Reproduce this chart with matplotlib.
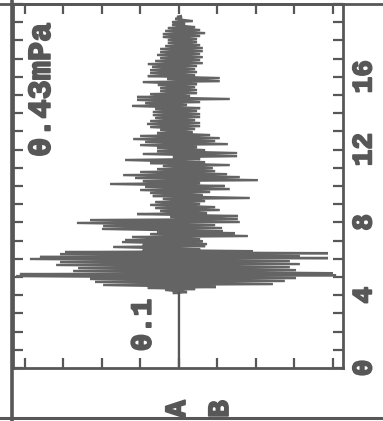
import matplotlib
matplotlib.use("Agg")
import matplotlib.pyplot as plt
from matplotlib.lines import Line2D
import matplotlib.patheffects as pe

# ---- data ----
# time (units of the time axis) of each oscillation row
row_time = [4.12, 4.29, 4.40, 4.56, 4.73, 4.89, 5.05, 5.16, 5.33, 5.49, 5.66, 5.82,
            5.99, 6.10, 6.26, 6.37, 6.48, 6.65, 6.76, 6.92, 7.03, 7.20, 7.36, 7.47,
            7.64, 7.80, 7.97, 8.13, 8.30, 8.46, 8.63, 8.79, 8.96, 9.12, 9.29, 9.45,
            9.62, 9.78, 9.95, 10.11, 10.27, 10.44, 10.60, 10.77, 10.93, 11.10, 11.26,
            11.43, 11.59, 11.76, 11.92, 12.09, 12.25, 12.42, 12.58, 12.75, 12.91,
            13.08, 13.24, 13.41, 13.57, 13.74, 13.90, 14.07, 14.23, 14.40, 14.56,
            14.73, 14.89, 15.05, 15.22, 15.38, 15.55, 15.71, 15.88, 16.04, 16.21,
            16.37, 16.54, 16.70, 16.87, 17.03, 17.20, 17.36, 17.53, 17.69, 17.86,
            18.02, 18.19, 18.35, 18.52, 18.68, 18.85, 19.01, 19.18, 19.29]
# negative peak of each row (divisions)
row_min = [-0.16, -0.36, -0.81, -1.97, -2.18, -2.31, -4.23, -4.13, -2.75, -2.62, -3.19, -3.09,
           -3.87, -3.61, -3.09, -2.96, -0.94, -1.71, -0.94, -1.48, -1.40, -1.22, -0.75, -0.57,
           -2.00, -1.97, -2.65, -2.31, -0.23, -1.09, -0.49, -0.62, -0.75, -0.62, -0.42, -0.68,
           -0.75, -1.01, -0.88, -1.79, -0.94, -1.14, -1.45, -1.01, -0.57, -0.42, -0.75,
           -1.40, -0.16, -0.94, -0.57, -0.57, -1.01, -0.88, -1.19, -1.01, -0.57,
           -0.49, -0.75, -0.83, -0.75, -0.62, -0.68, -0.68, -0.62, -1.22, -0.88,
           -1.09, -1.09, -0.75, -0.49, -0.49, -0.55, -0.94, -0.31, -0.81, -0.75,
           -0.75, -0.70, -0.81, -0.62, -0.49, -0.57, -0.49, -0.49, -0.36, -0.29,
           -0.29, -0.42, -0.42, -0.36, -0.29, -0.18, -0.18, -0.10, -0.05]
# positive peak of each row (divisions)
row_max = [0.21, 0.42, 0.96, 2.44, 2.75, 3.04, 4.08, 4.00, 3.04, 2.88, 3.14, 2.88,
           3.87, 3.14, 3.87, 1.92, 0.55, 0.68, 0.73, 0.62, 0.55, 1.79, 1.45, 1.14,
           1.12, 0.94, 1.58, 1.53, 1.53, 0.73, 1.06, 0.94, 0.55, 0.68, 1.84, 0.62,
           0.81, 1.32, 1.19, 0.55, 2.05, 1.58, 1.25, 0.94, 0.88, 1.32, 0.68,
           0.55, 1.51, 1.51, 0.68, 0.47, 1.27, 0.94, 1.06, 0.81, 0.36,
           0.42, 0.55, 0.55, 0.42, 0.55, 0.55, 0.47, 0.55, 0.21, 0.55,
           1.32, 0.29, 0.47, 0.47, 0.42, 0.47, 1.06, 1.06, 0.42, 0.47,
           0.42, 0.47, 0.62, 0.55, 0.62, 0.55, 0.62, 0.62, 0.55, 0.47,
           0.47, 0.55, 0.68, 0.55, 0.42, 0.16, 0.36, 0.08, 0.05]
onset_time = 4.12

time_ticks = [0, 4, 8, 12, 16]
time_tick_labels = ["0", "4", "8", "12", "16"]
amp_ticks = [-4, -3, -2, -1, 0, 1, 2, 3, 4]
scale_label = "0.1"
range_label = "0.43mPa"
channel_labels = ["A", "B"]

INK = "#575757"
WAVE = "#646464"
FONT = ["Liberation Mono", "DejaVu Sans Mono"]
BOLD = [pe.withStroke(linewidth=1.3, foreground=INK)]

fig = plt.figure(figsize=(3.83, 4.21), dpi=100)
fig.patch.set_facecolor("white")
ax = fig.add_axes([13 / 383, 53 / 421, 330 / 383, 364 / 421])
ax.set_xlim(-4.31, 4.26)
ax.set_ylim(0, 20)

# build the oscillating trace: horizontal strokes row by row
xs = [0.0, 0.0]
ys = [0.0, onset_time]
for t, lo, hi in zip(row_time, row_min, row_max):
    xs += [lo, hi]
    ys += [t, t + 0.05]
ax.plot(xs, ys, color=WAVE, lw=1.7, solid_joinstyle="miter", zorder=3)
ax.plot([0, 0], [0, onset_time], color=INK, lw=1.4, zorder=3)

for s in ax.spines.values():
    s.set_color(INK)
    s.set_linewidth(2.0)

ax.set_yticks(time_ticks)
ax.set_yticklabels(time_tick_labels, family=FONT, fontweight="bold",
                   fontsize=20, color=INK)
ax.set_yticks(range(0, 21), minor=True)
ax.set_xticks(amp_ticks)
ax.set_xticklabels([])
ax.tick_params(axis="y", which="both", direction="in", left=True, right=True,
               labelleft=False, labelright=True, labelrotation=90,
               length=7.5, width=1.6, color=INK, pad=6)
ax.tick_params(axis="x", which="both", direction="in", top=True, bottom=True,
               length=7.5, width=1.6, color=INK)
for lab in ax.get_yticklabels():
    lab.set_verticalalignment("center")
    lab.set_path_effects(BOLD)

ax.text(-3.56, 15.3, range_label, rotation=90, ha="center", va="center",
        family=FONT, fontweight="bold", fontsize=23, color=INK, path_effects=BOLD)
ax.text(-0.94, 2.36, scale_label, rotation=90, ha="center", va="center",
        family=FONT, fontweight="bold", fontsize=21, color=INK, path_effects=BOLD)

# outer frame
fig.add_artist(Line2D([12 / 383, 12 / 383], [0.0, 1.0], color=INK, lw=2.6,
                      transform=fig.transFigure))
fig.add_artist(Line2D([0, 1], [417 / 421, 417 / 421], color=INK, lw=2.0,
                      transform=fig.transFigure))
fig.add_artist(Line2D([0, 1], [3 / 421, 3 / 421], color=INK, lw=2.2,
                      transform=fig.transFigure, zorder=10))

for lab, xp in zip(channel_labels, [177 / 383, 220 / 383]):
    fig.text(xp, 12 / 421, lab, rotation=90, ha="center", va="center",
             family=FONT, fontweight="bold", fontsize=21, color=INK, zorder=5,
             path_effects=BOLD)

fig.savefig("out.png", dpi=100, facecolor="white")
